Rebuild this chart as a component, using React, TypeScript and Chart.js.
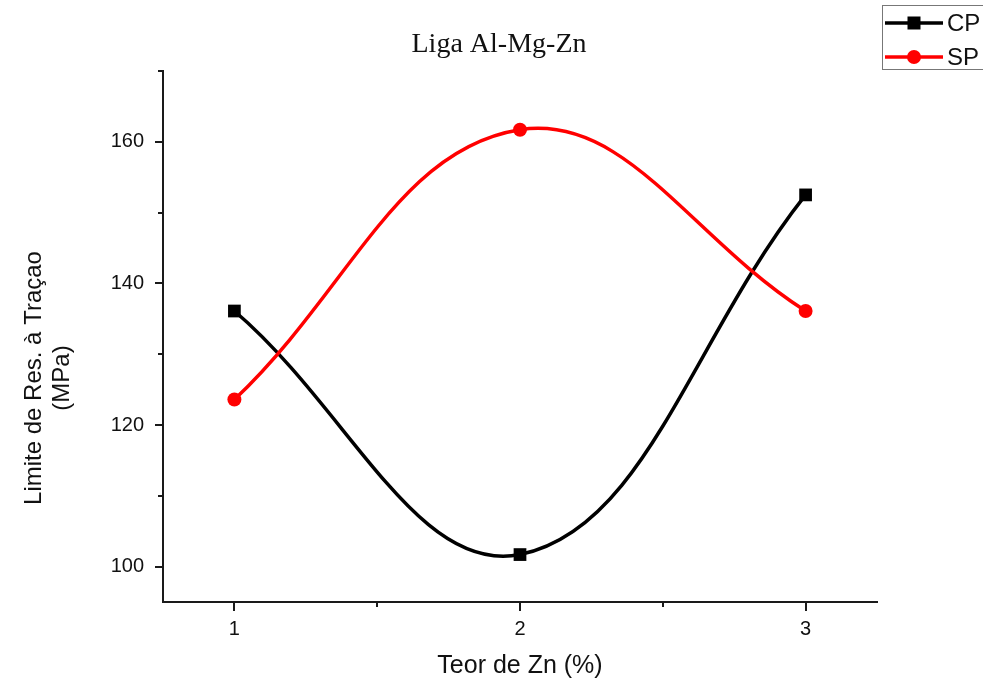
import React, { useEffect, useRef } from "react";
import { Chart, registerables } from "chart.js";

Chart.register(...registerables);

const chartTitle = "Liga Al-Mg-Zn";
const xTitle = "Teor de Zn (%)";
const yTitleLines = ["Limite de Res. à Traçao", "(MPa)"];
const seriesLabels = ["CP", "SP"];
const zincContent = [1, 2, 3];
const cpValues = [136.1, 101.7, 152.5];
const spValues = [123.6, 161.7, 136.1];
const xMajorTicks = [1, 2, 3];
const xMinorTicks = [1.5, 2.5];
const yMajorTicks = [100, 120, 140, 160];
const yMinorTicks = [110, 130, 150, 170];

const SANS = "'Liberation Sans', Arial, sans-serif";
const SERIF = "'Liberation Serif', 'Times New Roman', serif";
const AXIS = "#1a1a1a";

const decorPlugin = {
  id: "decor",
  afterDraw(chart: any) {
    const ctx = chart.ctx as CanvasRenderingContext2D;
    const xs = chart.scales.x;
    const ys = chart.scales.y;
    const area = chart.chartArea;
    ctx.save();
    ctx.strokeStyle = AXIS;
    ctx.lineWidth = 2;
    const xt = (vals: number[], len: number) =>
      vals.forEach((v) => {
        const px = Math.round(xs.getPixelForValue(v));
        ctx.beginPath();
        ctx.moveTo(px, area.bottom);
        ctx.lineTo(px, area.bottom + len);
        ctx.stroke();
      });
    const yt = (vals: number[], len: number) =>
      vals.forEach((v) => {
        const py = Math.round(ys.getPixelForValue(v));
        ctx.beginPath();
        ctx.moveTo(area.left, py);
        ctx.lineTo(area.left - len, py);
        ctx.stroke();
      });
    xt(xMajorTicks, 9);
    xt(xMinorTicks, 5);
    yt(yMajorTicks, 8);
    yt(yMinorTicks, 5);

    // chart title
    ctx.fillStyle = "#111";
    ctx.font = `28px ${SERIF}`;
    ctx.textAlign = "center";
    ctx.textBaseline = "alphabetic";
    ctx.fillText(chartTitle, (area.left + area.right) / 2 - 21, 52);

    // y title (rotated, two lines)
    ctx.save();
    ctx.translate(0, 378);
    ctx.rotate(-Math.PI / 2);
    ctx.font = `24px ${SANS}`;
    ctx.fillStyle = "#111";
    ctx.textBaseline = "middle";
    ctx.fillText(yTitleLines[0], 0, 34);
    ctx.fillText(yTitleLines[1], 0, 62);
    ctx.restore();

    // legend
    const lx = 882;
    const ly = 5;
    ctx.lineWidth = 1;
    ctx.strokeStyle = "#777";
    ctx.strokeRect(lx + 0.5, ly + 0.5, 120, 64);
    chart.data.datasets.forEach((ds: any, i: number) => {
      const cy = 23 + i * 34;
      ctx.strokeStyle = ds.borderColor;
      ctx.fillStyle = ds.borderColor;
      ctx.lineWidth = 3.5;
      ctx.beginPath();
      ctx.moveTo(lx + 3, cy);
      ctx.lineTo(lx + 61, cy);
      ctx.stroke();
      const mx = lx + 32;
      if (ds.pointStyle === "rect") {
        ctx.fillRect(mx - 6.5, cy - 6.5, 13, 13);
      } else {
        ctx.beginPath();
        ctx.arc(mx, cy, 7, 0, Math.PI * 2);
        ctx.fill();
      }
      ctx.fillStyle = "#111";
      ctx.font = `24px ${SANS}`;
      ctx.textAlign = "left";
      ctx.textBaseline = "middle";
      ctx.fillText(ds.label, lx + 65, cy + 1);
    });
    ctx.restore();
  },
};

export default function App() {
  const ref = useRef<HTMLCanvasElement>(null);
  useEffect(() => {
    if (!ref.current) return;
    const chart = new Chart(ref.current, {
      type: "line",
      data: {
        datasets: [
          {
            label: seriesLabels[0],
            data: zincContent.map((x, i) => ({ x, y: cpValues[i] })),
            borderColor: "#000000",
            backgroundColor: "#000000",
            borderWidth: 3.5,
            pointStyle: "rect",
            pointRadius: 9,
            pointBorderWidth: 0,
            tension: 0.4,
            order: 1,
          },
          {
            label: seriesLabels[1],
            data: zincContent.map((x, i) => ({ x, y: spValues[i] })),
            borderColor: "#ff0000",
            backgroundColor: "#ff0000",
            borderWidth: 3.5,
            pointStyle: "circle",
            pointRadius: 7,
            pointBorderWidth: 0,
            tension: 0.4,
            order: 0,
          },
        ],
      },
      options: {
        responsive: false,
        animation: false,
        layout: { padding: { top: 71, right: 106, left: 0, bottom: 0 } },
        plugins: {
          legend: { display: false },
          title: { display: false },
          tooltip: { enabled: false },
        },
        scales: {
          x: {
            type: "linear",
            min: 0.75,
            max: 3.25,
            afterBuildTicks: (s: any) => {
              s.ticks = xMajorTicks.map((v) => ({ value: v }));
            },
            afterFit: (s: any) => {
              s.height = 79;
            },
            grid: { display: false, drawTicks: false },
            border: { display: true, color: AXIS, width: 2 },
            ticks: {
              font: { family: SANS, size: 20 },
              color: "#111",
              padding: 15,
              callback: (v: any) => String(v),
            },
            title: {
              display: true,
              text: xTitle,
              font: { family: SANS, size: 25 },
              color: "#111",
              padding: { top: 0, bottom: 0 },
            },
          },
          y: {
            type: "linear",
            min: 95,
            max: 170,
            afterBuildTicks: (s: any) => {
              s.ticks = yMajorTicks.map((v) => ({ value: v }));
            },
            afterFit: (s: any) => {
              s.width = 163;
            },
            grid: { display: false, drawTicks: false },
            border: { display: true, color: AXIS, width: 2 },
            ticks: {
              font: { family: SANS, size: 20 },
              color: "#111",
              padding: 19,
              callback: (v: any) => String(v),
            },
          },
        },
      },
      plugins: [decorPlugin],
    });
    return () => chart.destroy();
  }, []);
  return (
    <div style={{ position: "absolute", left: 0, top: 0, width: 983, height: 681, background: "#fff" }}>
      <canvas ref={ref} width={983} height={681} style={{ display: "block" }} />
    </div>
  );
}
